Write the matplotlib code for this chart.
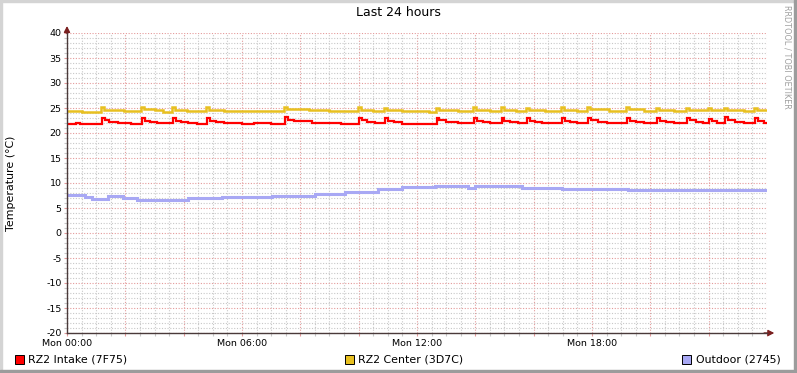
import matplotlib
matplotlib.use("Agg")
import matplotlib.pyplot as plt
from matplotlib.patches import Rectangle
from matplotlib.ticker import MultipleLocator, FuncFormatter

# hours since Mon 00:00, value in degC (step data)
intake_t = [0.00, 0.30, 0.45, 0.80, 1.00, 1.19, 1.29, 1.45, 1.75, 2.20,
            2.56, 2.66, 2.85, 3.10, 3.63, 3.73, 3.90, 4.15, 4.45, 4.79,
            4.89, 5.10, 5.40, 6.00, 6.40, 7.00, 7.47, 7.57, 7.80, 8.40,
            8.80, 9.40, 10.01, 10.11, 10.30, 10.55, 10.90, 11.00, 11.20, 11.50,
            12.67, 12.77, 13.00, 13.40, 13.95, 14.05, 14.25, 14.50, 14.90, 15.00,
            15.20, 15.45, 15.76, 15.86, 16.05, 16.30, 16.96, 17.06, 17.25, 17.50,
            17.87, 17.97, 18.20, 18.50, 19.20, 19.30, 19.50, 19.80, 20.23, 20.33,
            20.55, 20.80, 21.25, 21.35, 21.55, 21.80, 22.01, 22.11, 22.30, 22.56,
            22.66, 22.90, 23.20, 23.59, 23.69, 23.90, 23.97]
intake_v = [21.9, 22.0, 21.9, 21.8, 21.9, 23.1, 22.6, 22.3, 22.0, 21.9,
            23.0, 22.5, 22.2, 22.0, 23.0, 22.5, 22.2, 22.0, 21.9, 23.1,
            22.5, 22.2, 22.0, 21.9, 22.0, 21.9, 23.2, 22.7, 22.4, 22.1,
            22.0, 21.9, 23.0, 22.6, 22.3, 22.0, 23.0, 22.5, 22.2, 21.9,
            23.1, 22.6, 22.3, 22.0, 23.1, 22.5, 22.2, 22.0, 23.0, 22.5,
            22.2, 22.0, 23.0, 22.5, 22.2, 22.0, 23.1, 22.5, 22.2, 22.0,
            23.1, 22.6, 22.3, 22.0, 23.1, 22.5, 22.2, 22.0, 23.0, 22.5,
            22.2, 22.0, 23.1, 22.6, 22.3, 22.0, 22.8, 22.4, 22.1, 23.2,
            22.6, 22.3, 22.0, 23.0, 22.4, 22.1, 22.1]

center_t = [0.00, 0.50, 0.90, 1.16, 1.26, 1.95, 2.53, 2.63, 3.00, 3.30,
            3.60, 3.70, 4.10, 4.76, 4.86, 5.40, 6.20, 7.44, 7.54, 8.30,
            9.00, 9.98, 10.08, 10.50, 10.87, 10.97, 11.50, 12.40, 12.64, 12.74,
            13.40, 13.92, 14.02, 14.50, 14.87, 14.97, 15.40, 15.73, 15.83, 16.40,
            16.93, 17.03, 17.50, 17.84, 17.94, 18.60, 19.17, 19.27, 19.80, 20.20,
            20.30, 20.80, 21.22, 21.32, 21.98, 22.08, 22.53, 22.63, 23.20, 23.56,
            23.66, 23.97]
center_v = [24.5, 24.3, 24.2, 25.3, 24.7, 24.4, 25.2, 24.8, 24.6, 24.3,
            25.2, 24.7, 24.4, 25.2, 24.7, 24.5, 24.4, 25.3, 24.9, 24.7,
            24.5, 25.2, 24.7, 24.5, 25.1, 24.7, 24.4, 24.2, 25.1, 24.7,
            24.5, 25.2, 24.7, 24.5, 25.2, 24.7, 24.5, 25.1, 24.7, 24.4,
            25.2, 24.7, 24.4, 25.2, 24.8, 24.5, 25.2, 24.8, 24.5, 25.0,
            24.6, 24.4, 25.0, 24.7, 25.1, 24.7, 25.1, 24.7, 24.4, 25.1,
            24.7, 24.6]

outdoor_t = [0.00, 0.62, 0.85, 1.19, 1.42, 1.93, 2.39, 3.47, 4.16, 5.30,
             7.02, 8.50, 9.53, 10.67, 11.47, 12.62, 13.76, 13.99, 15.59, 16.96,
             19.24, 23.97]
outdoor_v = [7.7, 7.2, 6.8, 6.9, 7.5, 7.1, 6.6, 6.7, 7.0, 7.2,
             7.5, 7.8, 8.3, 8.8, 9.2, 9.5, 9.1, 9.5, 9.0, 8.8,
             8.6, 8.6]

legend_labels = ["RZ2 Intake (7F75)", "RZ2 Center (3D7C)", "Outdoor (2745)"]
colors = ["#FF0000", "#E8C020", "#A8A8F4"]

W, H = 797, 373
fig = plt.figure(figsize=(W / 100, H / 100), dpi=100, facecolor="white")

def fx(x):
    return x / W

def fy(y):
    return 1 - y / H

# frame shading
fig.patches.append(Rectangle((0, fy(2)), 1, 2 / H, transform=fig.transFigure, color="#D4D4D4", zorder=0))
fig.patches.append(Rectangle((0, 0), 2 / W, 1, transform=fig.transFigure, color="#D4D4D4", zorder=0))
fig.patches.append(Rectangle((fx(794), 0), 3 / W, 1, transform=fig.transFigure, color="#9C9C9C", zorder=0))
fig.patches.append(Rectangle((0, 0), 1, 3 / H, transform=fig.transFigure, color="#9C9C9C", zorder=0))

ax = fig.add_axes([fx(67), fy(333), 700 / W, 300 / H])
ax.set_facecolor("white")

ax.step(outdoor_t, outdoor_v, where="post", color=colors[2], lw=2.2, zorder=3,
        solid_joinstyle="miter")
ax.step(center_t, center_v, where="post", color=colors[1], lw=1.8, zorder=4,
        solid_joinstyle="miter")
ax.step(intake_t, intake_v, where="post", color=colors[0], lw=1.6, zorder=5,
        solid_joinstyle="miter")

ax.set_xlim(0, 24)
ax.set_ylim(-20, 40)

ax.xaxis.set_major_locator(MultipleLocator(2))
ax.xaxis.set_minor_locator(MultipleLocator(0.5))
ax.yaxis.set_major_locator(MultipleLocator(5))
ax.yaxis.set_minor_locator(MultipleLocator(1))
ax.xaxis.set_major_formatter(FuncFormatter(
    lambda v, p: "Mon %02d:00" % v if abs(v % 6) < 1e-6 and v < 24 else ""))
ax.yaxis.set_major_formatter(FuncFormatter(lambda v, p: "%d" % v))

ax.grid(which="minor", color="#C8C8C8", lw=0.8, linestyle=(0, (1, 1.5)), zorder=1)
ax.grid(which="major", color="#E49A9A", lw=0.8, linestyle=(0, (1, 1.5)), zorder=2)

ax.tick_params(which="major", length=2.5, width=0.8, color="#E49A9A", labelsize=6.8, pad=1.5)
ax.tick_params(which="minor", length=2, width=0.8, color="#C8C8C8")
ax.tick_params(axis="x", which="major", pad=2)

for s in ["top", "right"]:
    ax.spines[s].set_visible(False)
for s in ["left", "bottom"]:
    ax.spines[s].set_color("#4A3A3A")
    ax.spines[s].set_linewidth(1.0)
    ax.spines[s].set_zorder(6)

# axis arrows
ax.annotate("", xy=(0, 41.4), xytext=(0, 39.9), annotation_clip=False,
            arrowprops=dict(arrowstyle="-|>,head_length=0.35,head_width=0.18",
                            color="#7A2020", lw=1.0, shrinkA=0, shrinkB=0))
ax.annotate("", xy=(24.25, -20), xytext=(23.9, -20), annotation_clip=False,
            arrowprops=dict(arrowstyle="-|>,head_length=0.35,head_width=0.18",
                            color="#7A2020", lw=1.0, shrinkA=0, shrinkB=0))

fig.text(fx(398), fy(13), "Last 24 hours", ha="center", va="center", fontsize=9)
fig.text(fx(11), fy(183), "Temperature (°C)", rotation=90, ha="center", va="center", fontsize=7.9)
fig.text(fx(787), fy(5), "RRDTOOL / TOBI OETIKER", rotation=270, ha="center", va="top",
         fontsize=5.9, color="#A0A0A0")

# legend
for sx, tx, label, c in zip([15, 345, 682], [28, 358, 696], legend_labels, colors):
    fig.patches.append(Rectangle((fx(sx), fy(364)), 9 / W, 9 / H, transform=fig.transFigure,
                                 facecolor=c, edgecolor="black", lw=0.7))
    fig.text(fx(tx), fy(359.5), label, ha="left", va="center", fontsize=7.9)

fig.savefig("out.png", dpi=100, facecolor="white")
